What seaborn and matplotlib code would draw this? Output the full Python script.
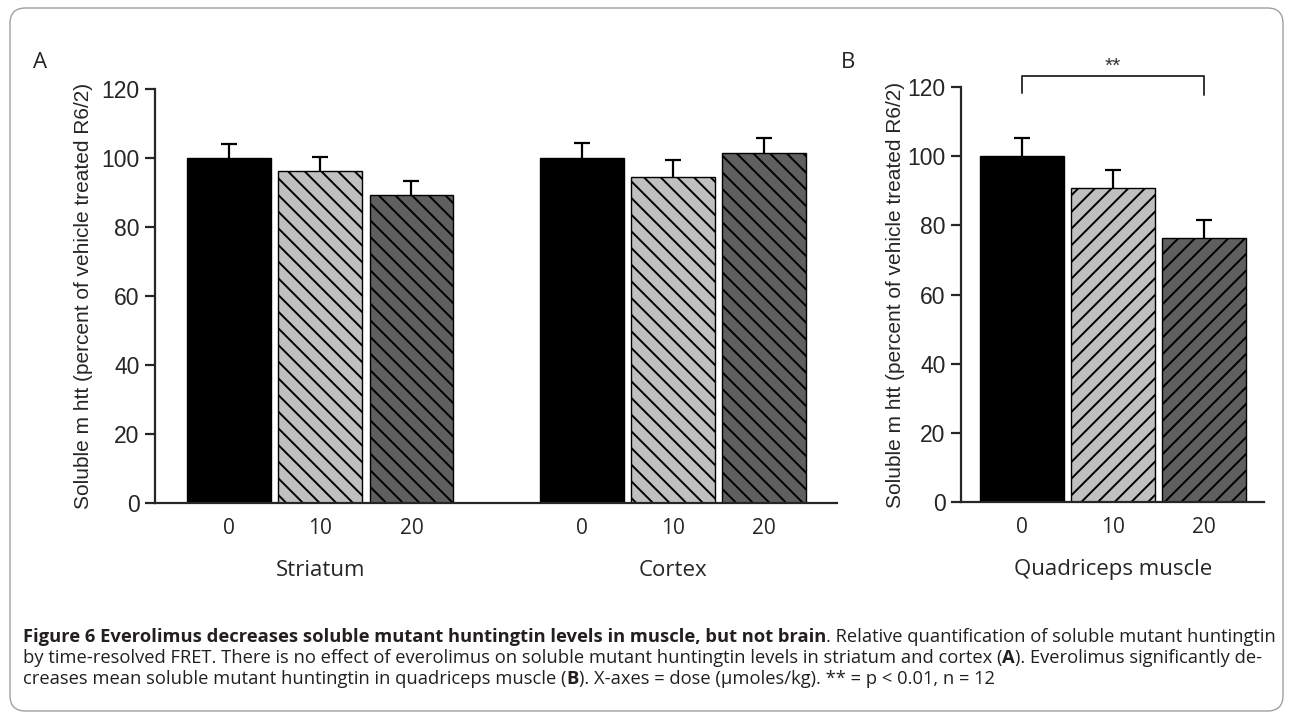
import numpy as np
import pandas as pd
import matplotlib
matplotlib.use("Agg")
import matplotlib.pyplot as plt
import seaborn as sns
from matplotlib import font_manager
from matplotlib.patches import FancyBboxPatch

# ---------------- data ----------------
regions_a = ["Striatum", "Cortex"]
doses = ["0", "10", "20"]
striatum_mean = [100.0, 96.2, 89.3]
striatum_sem = [4.0, 4.0, 4.0]
cortex_mean = [100.0, 94.6, 101.5]
cortex_sem = [4.3, 4.8, 4.3]
region_b = "Quadriceps muscle"
quad_mean = [100.0, 90.7, 76.4]
quad_sem = [5.2, 5.2, 5.1]
yticks = [0, 20, 40, 60, 80, 100, 120]
ylabel = "Soluble m htt (percent of vehicle treated R6/2)"
sig_label = "**"
colors = ["#000000", "#c0c0c0", "#5f5f5f"]

caption_lines = [
    [("Figure 6 Everolimus decreases soluble mutant huntingtin levels in muscle, but not brain", True),
     (". Relative quantification of soluble mutant huntingtin", False)],
    [("by time-resolved FRET. There is no effect of everolimus on soluble mutant huntingtin levels in striatum and cortex (", False),
     ("A", True),
     ("). Everolimus significantly de-", False)],
    [("creases mean soluble mutant huntingtin in quadriceps muscle (", False),
     ("B", True),
     ("). X-axes = dose (\u03bcmoles/kg). ** = p < 0.01, n = 12", False)],
]

# ---------------- style ----------------
sns.set_style("ticks")
installed = {f.name for f in font_manager.fontManager.ttflist}
narrow = "Liberation Sans Narrow" if "Liberation Sans Narrow" in installed else "Liberation Sans"
sans = "Open Sans" if "Open Sans" in installed else "DejaVu Sans"
plt.rcParams["font.family"] = [sans, "DejaVu Sans"]
plt.rcParams["hatch.linewidth"] = 1.4

W, H = 1292, 713
fig = plt.figure(figsize=(W / 100, H / 100), dpi=100)


def px_axes(left, right, top, bottom):
    return fig.add_axes([left / W, 1 - bottom / H, (right - left) / W, (bottom - top) / H])


axA = px_axes(155, 837, 89, 503)
axB = px_axes(961, 1264, 87, 502)

dfA = pd.DataFrame({
    "region": np.repeat(regions_a, len(doses)),
    "dose": doses * len(regions_a),
    "value": striatum_mean + cortex_mean,
    "sem": striatum_sem + cortex_sem,
})
dfB = pd.DataFrame({
    "region": [region_b] * len(doses),
    "dose": doses,
    "value": quad_mean,
    "sem": quad_sem,
})


def panel(ax, df, hatch, xlim, ylabel_x):
    order = list(dict.fromkeys(df["region"]))
    sns.barplot(data=df, x="region", y="value", hue="dose", order=order,
                hue_order=doses, palette=colors, saturation=1, width=0.776,
                gap=0.08, errorbar=None, edgecolor="black", linewidth=1.0,
                legend=False, ax=ax)
    bars = sorted(ax.patches, key=lambda p: p.get_x())
    xs = [p.get_x() + p.get_width() / 2 for p in bars]
    hs = [p.get_height() for p in bars]
    for p, d in zip(bars, df["dose"]):
        if d != doses[0]:
            p.set_hatch(hatch)
    eb = ax.errorbar(xs, hs, yerr=[np.zeros(len(xs)), df["sem"].values],
                     fmt="none", ecolor="black", elinewidth=1.6, capsize=6,
                     capthick=1.6, zorder=4)
    eb[1][0].set_visible(False)

    ax.set_xlim(*xlim)
    ax.set_ylim(0, 120)
    ax.set_yticks(yticks)
    ax.set_yticklabels([str(t) for t in yticks], fontfamily=narrow, fontsize=16.5)
    ax.set_xticks(xs)
    ax.set_xticklabels(list(df["dose"]), fontsize=15)
    ax.tick_params(axis="x", length=0, pad=11)
    ax.tick_params(axis="y", length=7, width=1.6, pad=4)
    for s in ["top", "right"]:
        ax.spines[s].set_visible(False)
    for s in ["left", "bottom"]:
        ax.spines[s].set_linewidth(1.6)
    ax.set_xlabel("")
    ax.set_ylabel(ylabel, fontfamily=narrow, fontsize=15)
    ax.yaxis.set_label_coords(ylabel_x, 0.5)
    # group labels
    xt = ax.get_xaxis_transform()
    for reg in order:
        cx = np.mean([x for x, r in zip(xs, df["region"]) if r == reg])
        ax.text(cx, -0.162, reg, transform=xt, ha="center", va="center", fontsize=16)
    return xs


panel(axA, dfA, "\\\\", (-0.469, 1.466), -0.091)
xsB = panel(axB, dfB, "//", (-0.431, 0.428), -0.185)

# significance bracket
axB.plot([xsB[0], xsB[0], xsB[2], xsB[2]], [118.4, 123.2, 123.2, 117.7],
         color="#333333", lw=1.4, clip_on=False)
axB.text((xsB[0] + xsB[2]) / 2, 126.0, sig_label, ha="center", va="center",
         fontfamily=narrow, fontsize=15, color="#333333")

# panel letters
fig.text(40 / W, 1 - 62 / H, "A", ha="center", va="center", fontsize=16)
fig.text(848 / W, 1 - 62 / H, "B", ha="center", va="center", fontsize=16)

# frame
frame = FancyBboxPatch((10 / W, 1 - 711 / H), (1283 - 10) / W, (711 - 8) / H,
                       boxstyle="round,pad=0,rounding_size=0.012",
                       mutation_aspect=W / H, transform=fig.transFigure,
                       fill=False, edgecolor="#a0a0a0", lw=1.0)
fig.add_artist(frame)

# caption
renderer = fig.canvas.get_renderer()


def draw_line(segs, x, y, size):
    arts = []
    cx = x
    for txt, bold in segs:
        t = fig.text(cx / W, 1 - y / H, txt, fontsize=size,
                     fontweight="bold" if bold else "normal",
                     ha="left", va="baseline", color="#231f20")
        bb = t.get_window_extent(renderer=renderer)
        cx = bb.x1
        arts.append(t)
    return arts, cx - x


size = 12.0
arts, w = draw_line(caption_lines[0], 23, 642, size)
for a in arts:
    a.remove()
size = size * (1273 - 23) / w
for i, segs in enumerate(caption_lines):
    draw_line(segs, 23, 642 + 21 * i, size)

fig.savefig("out.png", dpi=100)
